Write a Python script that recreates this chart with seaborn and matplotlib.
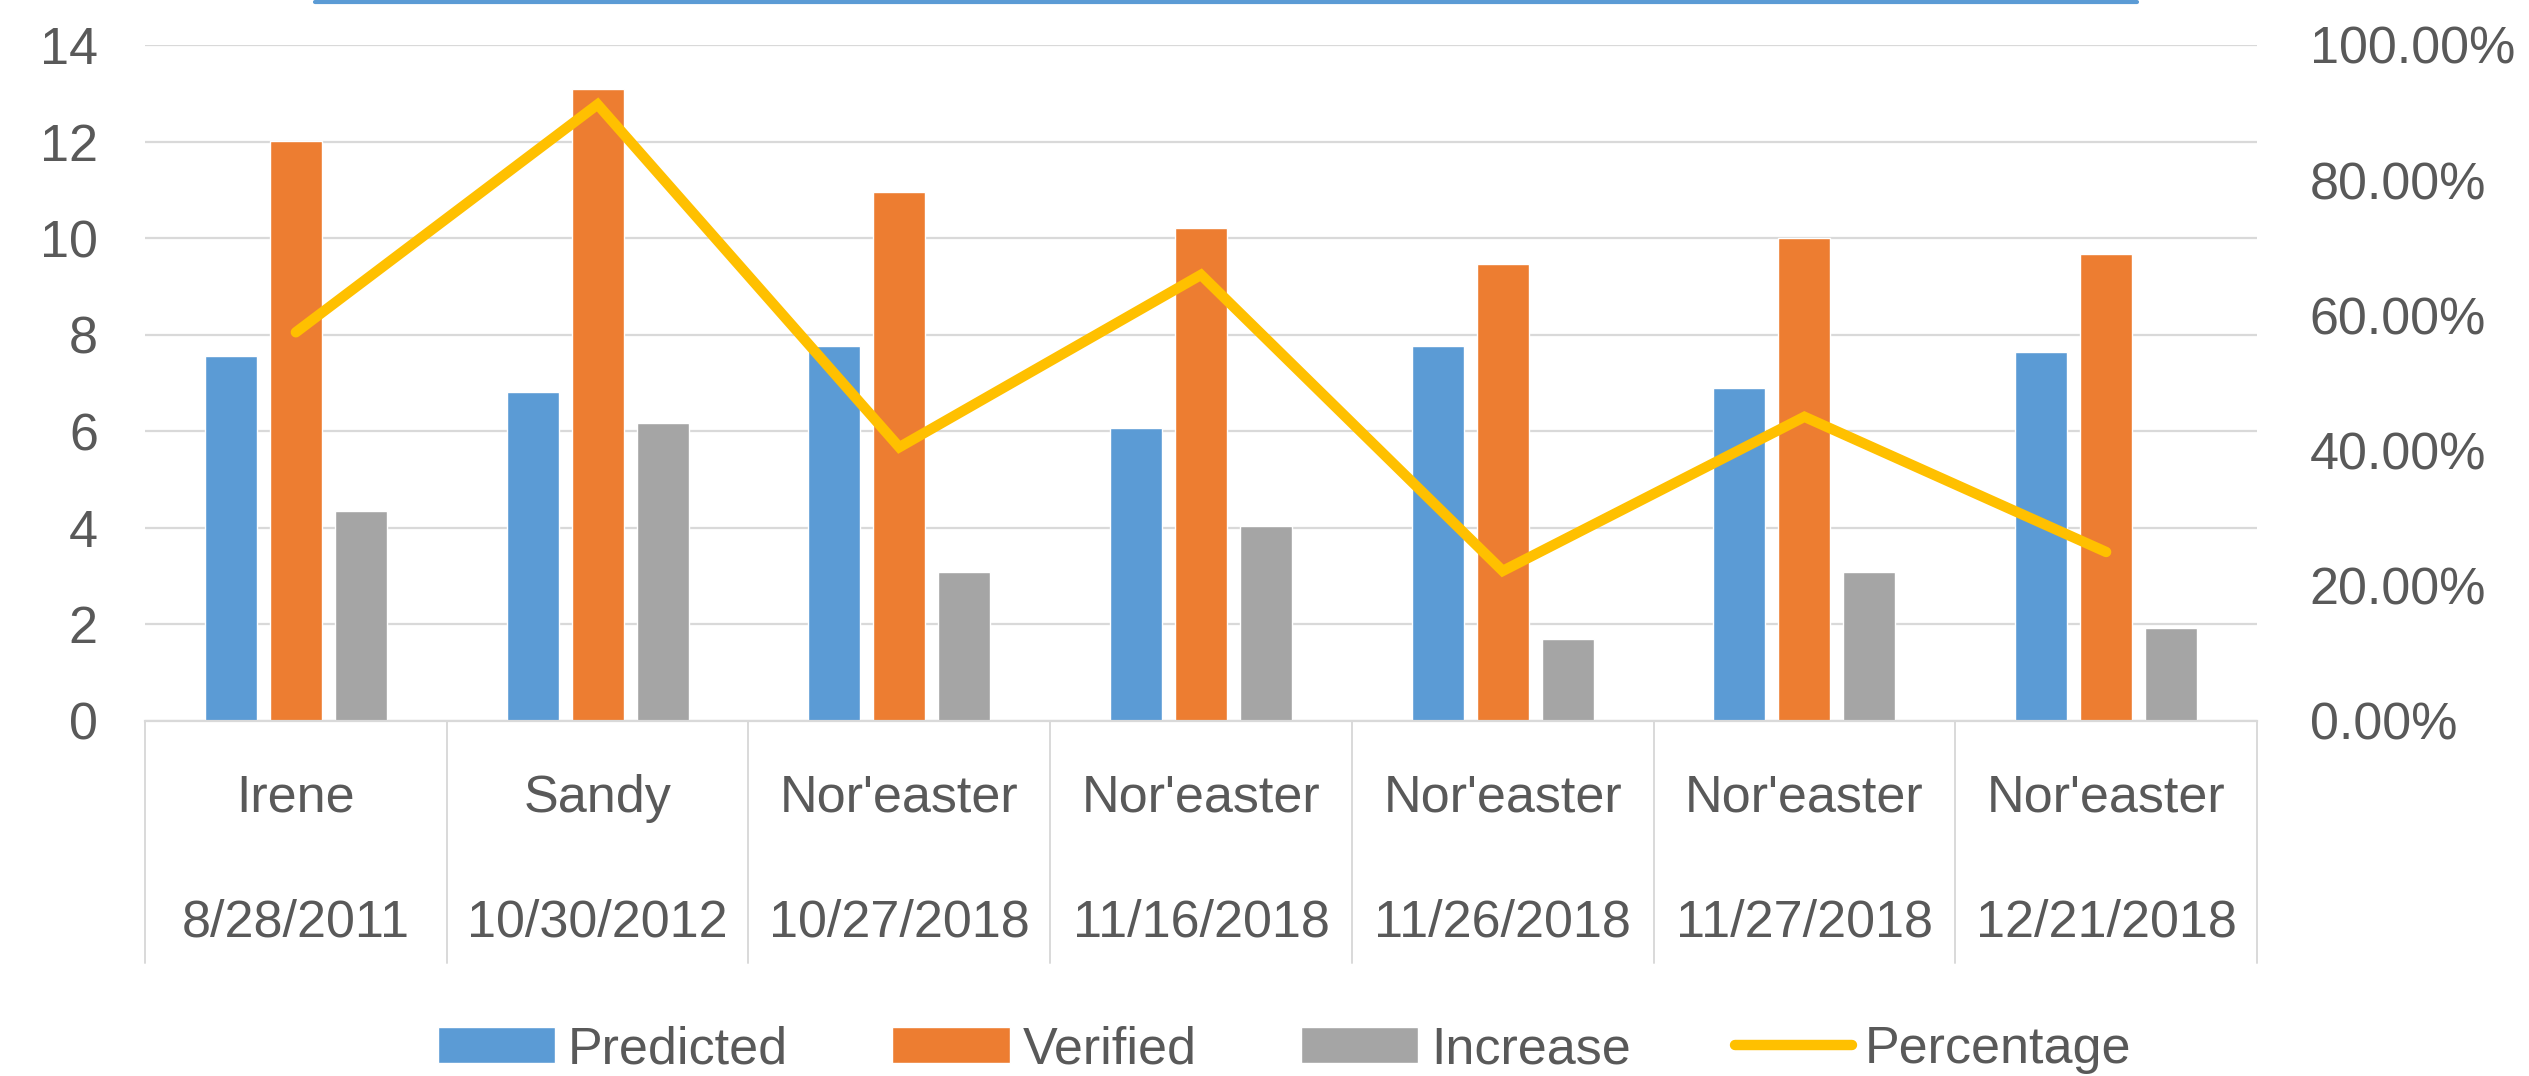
import numpy as np
import pandas as pd
import matplotlib
matplotlib.use("Agg")
import matplotlib.pyplot as plt
from matplotlib.ticker import FuncFormatter
from matplotlib.lines import Line2D
import seaborn as sns

# ---- data ----
storm_names = ["Irene", "Sandy", "Nor'easter", "Nor'easter", "Nor'easter", "Nor'easter", "Nor'easter"]
storm_dates = ["8/28/2011", "10/30/2012", "10/27/2018", "11/16/2018", "11/26/2018", "11/27/2018", "12/21/2018"]
predicted = [7.55, 6.81, 7.77, 6.06, 7.77, 6.90, 7.65]
verified = [12.02, 13.08, 10.95, 10.22, 9.46, 10.00, 9.68]
increase = [4.35, 6.17, 3.08, 4.03, 1.70, 3.08, 1.92]
percentage = [0.575, 0.912, 0.405, 0.660, 0.222, 0.450, 0.250]
series_names = ["Predicted", "Verified", "Increase"]
left_ticks = [0, 2, 4, 6, 8, 10, 12, 14]
right_ticks = [0.0, 0.2, 0.4, 0.6, 0.8, 1.0]

# ---- styling ----
sns.set_theme(style="white")
plt.rcParams['font.family'] = ['Liberation Sans', 'DejaVu Sans']
TXT = "#595959"
GRID = "#d9d9d9"
colors = ["#5B9BD5", "#ED7D31", "#A5A5A5"]
LINE_C = "#FFC000"
FS = 37.5

keys = [f"{n}\n{d}" for n, d in zip(storm_names, storm_dates)]
df = pd.DataFrame({
    "key": keys * 3,
    "Series": np.repeat(series_names, len(keys)),
    "value": predicted + verified + increase,
})

W, H = 2529, 1076
fig = plt.figure(figsize=(W / 100, H / 100), dpi=100)
ax = fig.add_axes([145 / W, 1 - 721 / H, (2257 - 145) / W, (721 - 45) / H])

sns.barplot(data=df, x="key", y="value", hue="Series", palette=colors,
            width=0.646, gap=0.2, ax=ax, legend=True, saturation=1)
h_bars, l_bars = ax.get_legend_handles_labels()
ax.get_legend().remove()

ax.set_ylim(0, 14)
ax.set_xlim(-0.5, len(keys) - 0.5)
ax.set_yticks(left_ticks)
ax.set_yticklabels([str(t) for t in left_ticks])
ax.set_xticks([])
ax.set_xlabel("")
ax.set_ylabel("")
ax.tick_params(axis="y", length=0, pad=34, labelsize=FS, labelcolor=TXT)
ax.yaxis.grid(True, color=GRID, lw=1.6)
ax.set_axisbelow(True)
for s in ["left", "right", "top"]:
    ax.spines[s].set_visible(False)
ax.spines["bottom"].set_color(GRID)
ax.spines["bottom"].set_linewidth(1.6)

# category label "table"
trans = matplotlib.transforms.blended_transform_factory(ax.transData, ax.transAxes)
for i, (n, d) in enumerate(zip(storm_names, storm_dates)):
    ax.text(i, -0.114, n, transform=trans, ha="center", va="center", fontsize=FS, color=TXT)
    ax.text(i, -0.299, d, transform=trans, ha="center", va="center", fontsize=FS, color=TXT)
for b in np.arange(-0.5, len(keys), 1.0):
    ax.add_line(Line2D([b, b], [0, -0.358], transform=trans, color=GRID, lw=1.4, clip_on=False))

# secondary axis with percentage line
ax2 = ax.twinx()
sns.lineplot(x=np.arange(len(percentage)), y=percentage, ax=ax2, color=LINE_C,
             lw=7.5, label="Percentage", solid_joinstyle="miter")
h_line, l_line = ax2.get_legend_handles_labels()
ax2.get_legend().remove()
ax2.set_ylim(0, 1)
ax2.set_yticks(right_ticks)
ax2.yaxis.set_major_formatter(FuncFormatter(lambda v, p: f"{v * 100:.2f}%"))
ax2.tick_params(axis="y", length=0, pad=38, labelsize=FS, labelcolor=TXT)
ax2.grid(False)
for s in ax2.spines.values():
    s.set_visible(False)
ax2.set_xlim(-0.5, len(keys) - 0.5)

# legend
leg = fig.legend(h_bars + h_line, l_bars + l_line, loc="lower center", ncol=4,
                 bbox_to_anchor=(0.508, -0.042), frameon=False, fontsize=FS,
                 handlelength=2.25, handletextpad=0.25, columnspacing=2.0,
                 handleheight=0.7, labelcolor=TXT)
for t in leg.get_texts():
    t.set_color(TXT)

# blue line at the top edge (border of a title shape)
fig.add_artist(Line2D([315 / W, 2137 / W], [1 - 2 / H, 1 - 2 / H], transform=fig.transFigure,
                      color="#5B9BD5", lw=3))

fig.savefig("out.png", dpi=100, facecolor="white")
